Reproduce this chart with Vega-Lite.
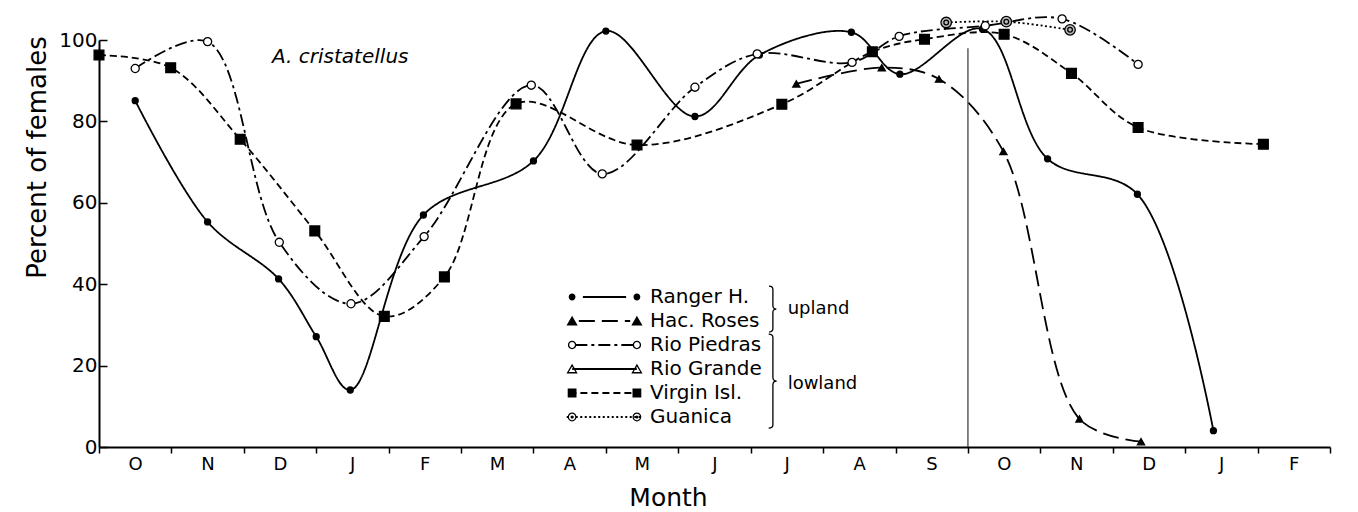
{
  "$schema": "https://vega.github.io/schema/vega-lite/v6.json",
  "width": 1231,
  "height": 407,
  "autosize": {"type": "none"},
  "padding": {"left": 99, "top": 40, "right": 28, "bottom": 65},
  "background": "white",
  "config": {"view": {"stroke": null}, "font": "DejaVu Sans"},
  "data": {"values": [
    {"site": "Ranger H.", "m": 0.5, "pct": 85.1},
    {"site": "Ranger H.", "m": 1.5, "pct": 55.3},
    {"site": "Ranger H.", "m": 2.48, "pct": 41.3},
    {"site": "Ranger H.", "m": 3.0, "pct": 27.1},
    {"site": "Ranger H.", "m": 3.47, "pct": 14.0},
    {"site": "Ranger H.", "m": 4.48, "pct": 57.0},
    {"site": "Ranger H.", "m": 6.0, "pct": 70.3},
    {"site": "Ranger H.", "m": 7.0, "pct": 102.2},
    {"site": "Ranger H.", "m": 8.23, "pct": 81.2},
    {"site": "Ranger H.", "m": 9.12, "pct": 96.3},
    {"site": "Ranger H.", "m": 10.39, "pct": 101.9},
    {"site": "Ranger H.", "m": 11.06, "pct": 91.6},
    {"site": "Ranger H.", "m": 12.2, "pct": 102.7},
    {"site": "Ranger H.", "m": 13.1, "pct": 70.8},
    {"site": "Ranger H.", "m": 14.34, "pct": 62.1},
    {"site": "Ranger H.", "m": 15.39, "pct": 4.0},
    {"site": "Hac. Roses", "m": 9.63, "pct": 89.2},
    {"site": "Hac. Roses", "m": 10.81, "pct": 93.2},
    {"site": "Hac. Roses", "m": 11.6, "pct": 90.4},
    {"site": "Hac. Roses", "m": 12.49, "pct": 72.6},
    {"site": "Hac. Roses", "m": 13.54, "pct": 6.9},
    {"site": "Hac. Roses", "m": 14.39, "pct": 1.3},
    {"site": "Rio Piedras", "m": 0.5, "pct": 93.0},
    {"site": "Rio Piedras", "m": 1.5, "pct": 99.6},
    {"site": "Rio Piedras", "m": 2.49, "pct": 50.3},
    {"site": "Rio Piedras", "m": 3.48, "pct": 35.2},
    {"site": "Rio Piedras", "m": 4.49, "pct": 51.7},
    {"site": "Rio Piedras", "m": 5.97, "pct": 88.9},
    {"site": "Rio Piedras", "m": 6.95, "pct": 67.1},
    {"site": "Rio Piedras", "m": 8.23, "pct": 88.4},
    {"site": "Rio Piedras", "m": 9.09, "pct": 96.6},
    {"site": "Rio Piedras", "m": 10.4, "pct": 94.5},
    {"site": "Rio Piedras", "m": 11.05, "pct": 100.9},
    {"site": "Rio Piedras", "m": 12.24, "pct": 103.5},
    {"site": "Rio Piedras", "m": 13.3, "pct": 105.2},
    {"site": "Rio Piedras", "m": 14.35, "pct": 94.0},
    {"site": "Virgin Isl.", "m": 0, "pct": 96.3},
    {"site": "Virgin Isl.", "m": 0.99, "pct": 93.2},
    {"site": "Virgin Isl.", "m": 1.95, "pct": 75.6},
    {"site": "Virgin Isl.", "m": 2.98, "pct": 53.1},
    {"site": "Virgin Isl.", "m": 3.94, "pct": 32.1},
    {"site": "Virgin Isl.", "m": 4.77, "pct": 41.8},
    {"site": "Virgin Isl.", "m": 5.76, "pct": 84.3},
    {"site": "Virgin Isl.", "m": 7.43, "pct": 74.2},
    {"site": "Virgin Isl.", "m": 9.43, "pct": 84.2},
    {"site": "Virgin Isl.", "m": 10.68, "pct": 97.1},
    {"site": "Virgin Isl.", "m": 11.4, "pct": 100.2},
    {"site": "Virgin Isl.", "m": 12.5, "pct": 101.4},
    {"site": "Virgin Isl.", "m": 13.43, "pct": 91.8},
    {"site": "Virgin Isl.", "m": 14.35, "pct": 78.5},
    {"site": "Virgin Isl.", "m": 16.08, "pct": 74.4},
    {"site": "Guanica", "m": 11.7, "pct": 104.3},
    {"site": "Guanica", "m": 12.53, "pct": 104.5},
    {"site": "Guanica", "m": 13.41, "pct": 102.5}
  ]},
  "encoding": {
    "x": {
      "field": "m", "type": "quantitative",
      "scale": {"domain": [0, 17], "nice": false, "zero": false},
      "axis": {
        "title": "Month",
        "values": [0, 1, 2, 3, 4, 5, 6, 7, 8, 9, 10, 11, 12, 13, 14, 15, 16, 17],
        "labelExpr": "['O','N','D','J','F','M','A','M','J','J','A','S','O','N','D','J','F',''][datum.value]",
        "labelOffset": 36, "labelFlush": false, "labelOverlap": false, "labelBound": false,
        "tickSize": 6, "tickWidth": 1.5, "tickColor": "black",
        "domainColor": "black", "domainWidth": 2, "grid": false,
        "labelFont": "DejaVu Sans", "labelFontSize": 18, "labelColor": "black", "labelPadding": 2,
        "titleFont": "DejaVu Sans", "titleFontSize": 25, "titleFontWeight": "normal", "titleColor": "black",
        "titleX": 569, "titleY": 58, "titleBaseline": "alphabetic"
      }
    },
    "y": {
      "field": "pct", "type": "quantitative",
      "scale": {"domain": [0, 100], "nice": false},
      "axis": {
        "title": "Percent of females",
        "values": [0, 20, 40, 60, 80, 100],
        "tickSize": -8, "tickWidth": 1.5, "tickColor": "black",
        "domainColor": "black", "domainWidth": 2, "grid": false,
        "labelFont": "DejaVu Sans", "labelFontSize": 20, "labelColor": "black", "labelPadding": 10, "labelFlush": false,
        "titleFont": "DejaVu Sans", "titleFontSize": 26, "titleFontWeight": "normal", "titleColor": "black",
        "titleX": -54, "titleY": 117, "titleBaseline": "alphabetic", "titleAngle": -90
      }
    }
  },
  "layer": [
    {
      "mark": {"type": "line", "interpolate": "catmull-rom", "stroke": "black", "strokeWidth": 1.8},
      "encoding": {
        "strokeDash": {
          "field": "site", "type": "nominal",
          "scale": {
            "domain": ["Ranger H.", "Hac. Roses", "Rio Piedras", "Rio Grande", "Virgin Isl.", "Guanica"],
            "range": [[1, 0], [16, 7], [12, 4, 3, 4], [1, 0], [7, 4], [2, 2.5]]
          },
          "legend": {
            "orient": "none", "legendX": 495.5, "legendY": 247, "title": null, "padding": 0,
            "rowPadding": 4, "symbolType": "M-7.2,0H7.2", "symbolSize": 64,
            "symbolStrokeWidth": 1.8, "symbolStrokeColor": "black", "symbolFillColor": "transparent",
            "symbolOffset": 0, "labelOffset": 35.5, "labelFont": "DejaVu Sans", "labelFontSize": 20,
            "labelColor": "black", "labelLimit": 300
          }
        }
      }
    },
    {
      "mark": {"type": "point", "stroke": "black", "strokeWidth": 1.3, "opacity": 1},
      "encoding": {
        "shape": {
          "field": "site", "type": "nominal",
          "scale": {
            "domain": ["Ranger H.", "Hac. Roses", "Rio Piedras", "Rio Grande", "Virgin Isl.", "Guanica"],
            "range": ["circle", "triangle-up", "circle", "triangle-up", "square", "M-1,0A1,1,0,1,0,1,0A1,1,0,1,0,-1,0ZM-0.45,0A0.45,0.45,0,1,0,0.45,0A0.45,0.45,0,1,0,-0.45,0Z"]
          },
          "legend": null
        },
        "fill": {
          "field": "site", "type": "nominal",
          "scale": {
            "domain": ["Ranger H.", "Hac. Roses", "Rio Piedras", "Rio Grande", "Virgin Isl.", "Guanica"],
            "range": ["black", "black", "white", "white", "black", "#bbbbbb"]
          },
          "legend": null
        },
        "size": {
          "field": "site", "type": "ordinal",
          "scale": {
            "domain": ["Ranger H.", "Hac. Roses", "Rio Piedras", "Rio Grande", "Virgin Isl.", "Guanica"],
            "range": [36, 110, 50, 110, 85, 85]
          },
          "legend": null
        }
      }
    },
    {
      "transform": [{"filter": "false"}],
      "mark": {"type": "point", "filled": true, "fill": "black", "strokeWidth": 0, "opacity": 1, "size": 64},
      "encoding": {
        "shape": {
          "field": "site", "type": "nominal",
          "scale": {
            "domain": ["Ranger H.", "Hac. Roses", "Rio Piedras", "Rio Grande", "Virgin Isl.", "Guanica"],
            "range": [
              "M-8.95,0A0.85,0.85,0,1,1,-7.25,0A0.85,0.85,0,1,1,-8.95,0ZM7.25,0A0.85,0.85,0,1,1,8.95,0A0.85,0.85,0,1,1,7.25,0Z",
              "M-9.5,1.1L-8.1,-1.3L-6.7,1.1ZM6.7,1.1L8.1,-1.3L9.5,1.1Z",
              "M-9.15,0A1.05,1.05,0,1,1,-7.05,0A1.05,1.05,0,1,1,-9.15,0ZM-8.82,0A0.72,0.72,0,1,0,-7.38,0A0.72,0.72,0,1,0,-8.82,0ZM7.05,0A1.05,1.05,0,1,1,9.15,0A1.05,1.05,0,1,1,7.05,0ZM7.38,0A0.72,0.72,0,1,0,8.82,0A0.72,0.72,0,1,0,7.38,0Z",
              "M-9.5,1.1L-8.1,-1.3L-6.7,1.1ZM-8.926,0.77L-7.274,0.77L-8.1,-0.646ZM6.7,1.1L8.1,-1.3L9.5,1.1ZM7.274,0.77L8.926,0.77L8.1,-0.646Z",
              "M-9.2,-1.1H-7V1.1H-9.2ZM7,-1.1H9.2V1.1H7Z",
              "M-9.2,0A1.1,1.1,0,1,1,-7,0A1.1,1.1,0,1,1,-9.2,0ZM-8.9,0A0.8,0.8,0,1,0,-7.3,0A0.8,0.8,0,1,0,-8.9,0ZM-8.5,0A0.4,0.4,0,1,1,-7.7,0A0.4,0.4,0,1,1,-8.5,0ZM7,0A1.1,1.1,0,1,1,9.2,0A1.1,1.1,0,1,1,7,0ZM7.3,0A0.8,0.8,0,1,0,8.9,0A0.8,0.8,0,1,0,7.3,0ZM7.7,0A0.4,0.4,0,1,1,8.5,0A0.4,0.4,0,1,1,7.7,0Z"
            ]
          },
          "legend": {
            "orient": "none", "legendX": 495.5, "legendY": 247, "title": null, "padding": 0,
            "rowPadding": 4, "symbolSize": 64, "symbolStrokeWidth": 0, "symbolStrokeColor": "transparent",
            "symbolFillColor": "black", "symbolOpacity": 1, "symbolOffset": 0, "labelOffset": 35.5,
            "labelFont": "DejaVu Sans", "labelFontSize": 20, "labelOpacity": 0, "labelLimit": 300
          }
        }
      }
    },
    {
      "transform": [{"filter": "datum.site == 'Guanica' && datum.m < 12"}],
      "mark": {"type": "rule", "color": "#333333", "strokeWidth": 1.2},
      "encoding": {
        "x": {"datum": 12, "type": "quantitative"},
        "y": {"datum": 0, "type": "quantitative"},
        "y2": {"datum": 98}
      }
    },
    {
      "transform": [{"filter": "datum.site == 'Guanica' && datum.m < 12"}],
      "mark": {"type": "text", "text": "A. cristatellus", "font": "DejaVu Sans", "fontStyle": "italic", "fontSize": 20, "align": "left", "baseline": "alphabetic", "color": "black"},
      "encoding": {
        "x": {"datum": 2.39, "type": "quantitative"},
        "y": {"datum": 94.4, "type": "quantitative"}
      }
    },
    {
      "transform": [{"filter": "datum.site == 'Guanica' && datum.m < 12"}],
      "mark": {"type": "text", "text": "upland", "font": "DejaVu Sans", "fontSize": 18, "align": "left", "baseline": "alphabetic", "color": "black"},
      "encoding": {
        "x": {"datum": 9.51, "type": "quantitative"},
        "y": {"datum": 32.6, "type": "quantitative"}
      }
    },
    {
      "transform": [{"filter": "datum.site == 'Guanica' && datum.m < 12"}],
      "mark": {"type": "text", "text": "lowland", "font": "DejaVu Sans", "fontSize": 18, "align": "left", "baseline": "alphabetic", "color": "black"},
      "encoding": {
        "x": {"datum": 9.51, "type": "quantitative"},
        "y": {"datum": 14.2, "type": "quantitative"}
      }
    },
    {
      "transform": [{"filter": "datum.site == 'Guanica' && datum.m < 12"}],
      "mark": {"type": "point", "shape": "M-0.15,-1Q0.02,-1 0.02,-0.85L0.02,-0.15Q0.02,0 0.17,0Q0.02,0 0.02,0.15L0.02,0.85Q0.02,1 -0.15,1", "size": 2116, "stroke": "black", "strokeWidth": 1.3, "filled": false, "opacity": 1},
      "encoding": {
        "x": {"datum": 9.3, "type": "quantitative"},
        "y": {"datum": 33.9, "type": "quantitative"}
      }
    },
    {
      "transform": [{"filter": "datum.site == 'Guanica' && datum.m < 12"}],
      "mark": {"type": "point", "shape": "M-0.08,-1Q0.01,-1 0.01,-0.93L0.01,-0.08Q0.01,0 0.09,0Q0.01,0 0.01,0.08L0.01,0.93Q0.01,1 -0.08,1", "size": 8836, "stroke": "black", "strokeWidth": 1.3, "filled": false, "opacity": 1},
      "encoding": {
        "x": {"datum": 9.3, "type": "quantitative"},
        "y": {"datum": 16.2, "type": "quantitative"}
      }
    }
  ],
  "resolve": {"scale": {"shape": "independent", "fill": "independent"}}
}
